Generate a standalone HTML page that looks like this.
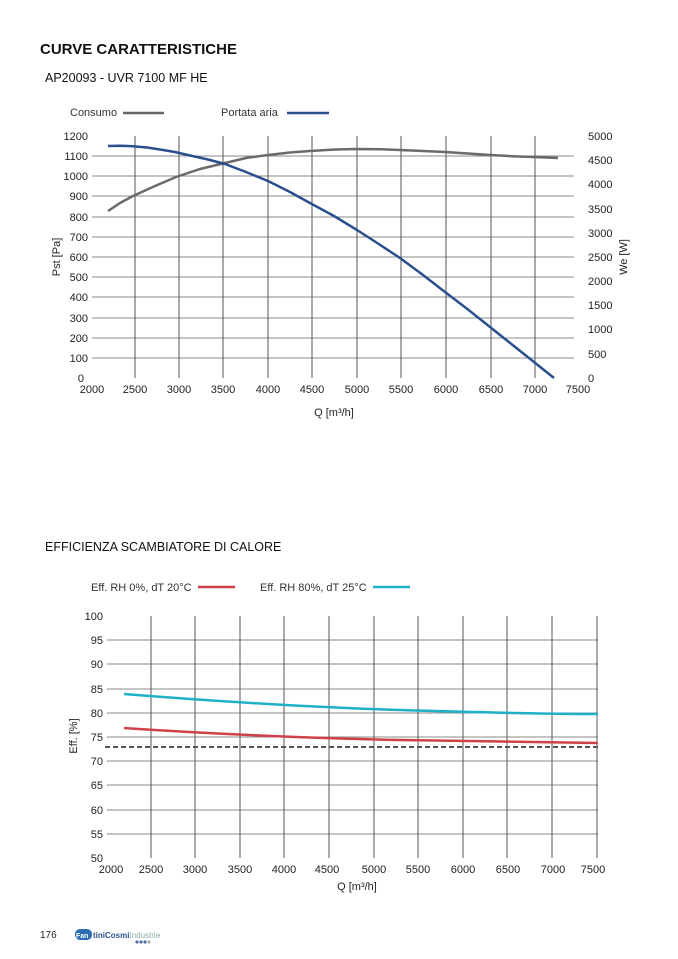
<!DOCTYPE html>
<html><head><meta charset="utf-8"><style>
body{margin:0;background:#fff;}
svg{display:block;font-family:"Liberation Sans",sans-serif;}
</style></head><body>
<svg width="678" height="959" viewBox="0 0 678 959" xmlns="http://www.w3.org/2000/svg">
<text x="40" y="54" font-size="15" font-weight="bold" fill="#111">CURVE CARATTERISTICHE</text>
<text x="45" y="82" font-size="12.5" fill="#111">AP20093 - UVR 7100 MF HE</text>
<text x="70" y="116" font-size="11" fill="#333">Consumo</text>
<line x1="123" y1="113" x2="164" y2="113" stroke="#666" stroke-width="2.5"/>
<text x="221" y="116" font-size="11" fill="#333">Portata aria</text>
<line x1="287" y1="113" x2="329" y2="113" stroke="#2a4f8f" stroke-width="2.5"/>
<g stroke="#888" stroke-width="1">
<line x1="92" y1="156" x2="574" y2="156"/><line x1="92" y1="176" x2="574" y2="176"/><line x1="92" y1="196" x2="574" y2="196"/><line x1="92" y1="217" x2="574" y2="217"/><line x1="92" y1="237" x2="574" y2="237"/><line x1="92" y1="257" x2="574" y2="257"/><line x1="92" y1="277" x2="574" y2="277"/><line x1="92" y1="297" x2="574" y2="297"/><line x1="92" y1="318" x2="574" y2="318"/><line x1="92" y1="338" x2="574" y2="338"/><line x1="92" y1="358" x2="574" y2="358"/>
</g>
<g stroke="#555" stroke-width="1">
<line x1="135" y1="136" x2="135" y2="378"/><line x1="179" y1="136" x2="179" y2="378"/><line x1="223" y1="136" x2="223" y2="378"/><line x1="268" y1="136" x2="268" y2="378"/><line x1="312" y1="136" x2="312" y2="378"/><line x1="357" y1="136" x2="357" y2="378"/><line x1="401" y1="136" x2="401" y2="378"/><line x1="446" y1="136" x2="446" y2="378"/><line x1="491" y1="136" x2="491" y2="378"/><line x1="535" y1="136" x2="535" y2="378"/>
</g>
<g font-size="11" fill="#222" text-anchor="end">
<text x="88" y="140">1200</text><text x="88" y="160">1100</text><text x="88" y="180">1000</text><text x="88" y="200">900</text><text x="88" y="221">800</text><text x="88" y="241">700</text><text x="88" y="261">600</text><text x="88" y="281">500</text><text x="88" y="301">400</text><text x="88" y="322">300</text><text x="88" y="342">200</text><text x="88" y="362">100</text><text x="84" y="382">0</text>
</g>
<g font-size="11" fill="#222">
<text x="588" y="140">5000</text><text x="588" y="164">4500</text><text x="588" y="188">4000</text><text x="588" y="213">3500</text><text x="588" y="237">3000</text><text x="588" y="261">2500</text><text x="588" y="285">2000</text><text x="588" y="309">1500</text><text x="588" y="333">1000</text><text x="588" y="358">500</text><text x="588" y="382">0</text>
</g>
<g font-size="11" fill="#222" text-anchor="middle">
<text x="92" y="393">2000</text><text x="135" y="393">2500</text><text x="179" y="393">3000</text><text x="223" y="393">3500</text><text x="268" y="393">4000</text><text x="312" y="393">4500</text><text x="357" y="393">5000</text><text x="401" y="393">5500</text><text x="446" y="393">6000</text><text x="491" y="393">6500</text><text x="535" y="393">7000</text><text x="578" y="393">7500</text>
<text x="334" y="416">Q [m³/h]</text>
</g>
<text transform="translate(60,257) rotate(-90)" font-size="11" fill="#222" text-anchor="middle">Pst [Pa]</text>
<text transform="translate(627,257) rotate(-90)" font-size="11" fill="#222" text-anchor="middle">We [W]</text>
<polyline points="108,211 120,203 133,196 155,186 176,177 200,169 225,163 246,158 268,155 290,152.5 310,151 335,149.5 357,149 380,149.2 400,150 423,151 445,152 468,153.5 490,155 512,156.2 534,157 558,158" fill="none" stroke="#6a6a6a" stroke-width="2.5" stroke-linejoin="round"/>
<polyline points="108,146 120,145.8 133,146.2 147,147.5 160,149.5 175,152 190,155.5 208,159.5 225,164 246,172 268,181 289,191.5 310,203 334,216 357,230 378,243.5 400,258 423,275 445,292 468,309.5 490,327 512,344.5 534,362 554,378" fill="none" stroke="#2a4f8f" stroke-width="2.5" stroke-linejoin="round"/>

<text x="45" y="551" font-size="12.5" fill="#111">EFFICIENZA SCAMBIATORE DI CALORE</text>
<text x="91" y="591" font-size="11" fill="#333">Eff. RH 0%, dT 20°C</text>
<line x1="198" y1="587" x2="235" y2="587" stroke="#d0404a" stroke-width="2.5"/>
<text x="260" y="591" font-size="11" fill="#333">Eff. RH 80%, dT 25°C</text>
<line x1="373" y1="587" x2="410" y2="587" stroke="#1fb0c8" stroke-width="2.5"/>
<g stroke="#888" stroke-width="1">
<line x1="107" y1="640" x2="598" y2="640"/><line x1="107" y1="664" x2="598" y2="664"/><line x1="107" y1="689" x2="598" y2="689"/><line x1="107" y1="713" x2="598" y2="713"/><line x1="107" y1="737" x2="598" y2="737"/><line x1="107" y1="761" x2="598" y2="761"/><line x1="107" y1="785" x2="598" y2="785"/><line x1="107" y1="810" x2="598" y2="810"/><line x1="107" y1="834" x2="598" y2="834"/>
</g>
<g stroke="#555" stroke-width="1">
<line x1="151" y1="616" x2="151" y2="858"/><line x1="195" y1="616" x2="195" y2="858"/><line x1="240" y1="616" x2="240" y2="858"/><line x1="284" y1="616" x2="284" y2="858"/><line x1="329" y1="616" x2="329" y2="858"/><line x1="374" y1="616" x2="374" y2="858"/><line x1="418" y1="616" x2="418" y2="858"/><line x1="463" y1="616" x2="463" y2="858"/><line x1="507" y1="616" x2="507" y2="858"/><line x1="552" y1="616" x2="552" y2="858"/><line x1="597" y1="616" x2="597" y2="858"/>
</g>
<g font-size="11" fill="#222" text-anchor="end">
<text x="103" y="620">100</text><text x="103" y="644">95</text><text x="103" y="668">90</text><text x="103" y="693">85</text><text x="103" y="717">80</text><text x="103" y="741">75</text><text x="103" y="765">70</text><text x="103" y="789">65</text><text x="103" y="814">60</text><text x="103" y="838">55</text><text x="103" y="862">50</text>
</g>
<g font-size="11" fill="#222" text-anchor="middle">
<text x="111" y="873">2000</text><text x="151" y="873">2500</text><text x="195" y="873">3000</text><text x="240" y="873">3500</text><text x="284" y="873">4000</text><text x="327" y="873">4500</text><text x="374" y="873">5000</text><text x="418" y="873">5500</text><text x="463" y="873">6000</text><text x="508" y="873">6500</text><text x="553" y="873">7000</text><text x="593" y="873">7500</text>
<text x="357" y="890">Q [m³/h]</text>
</g>
<text transform="translate(77,736) rotate(-90)" font-size="11" fill="#222" text-anchor="middle">Eff. [%]</text>
<line x1="105" y1="747" x2="598" y2="747" stroke="#555" stroke-width="2" stroke-dasharray="5,3"/>
<path d="M124,694 C200,700 300,707 400,710 S560,714 598,714" fill="none" stroke="#1fb0c8" stroke-width="2.5"/>
<path d="M124,728 C200,733 300,738 400,740 S560,743 598,743" fill="none" stroke="#d0404a" stroke-width="2.5"/>

<text x="40" y="938" font-size="10" fill="#222">176</text>
<rect x="75" y="929" width="17" height="11" rx="5" fill="#2a6db3"/>
<text x="76" y="938" font-size="7" fill="#fff" font-weight="bold">Fan</text>
<text x="93" y="938" font-size="8" font-weight="bold" fill="#2a4f8f">tiniCosmi<tspan font-weight="normal" fill="#8aa">Industrie</tspan></text>
<g fill="#4a6fa5"><circle cx="137" cy="942" r="1.6"/><circle cx="141" cy="942" r="1.6"/><circle cx="145" cy="942" r="1.6"/><circle cx="149" cy="942" r="1.6" fill="#aaa"/></g>
</svg>
</body></html>
